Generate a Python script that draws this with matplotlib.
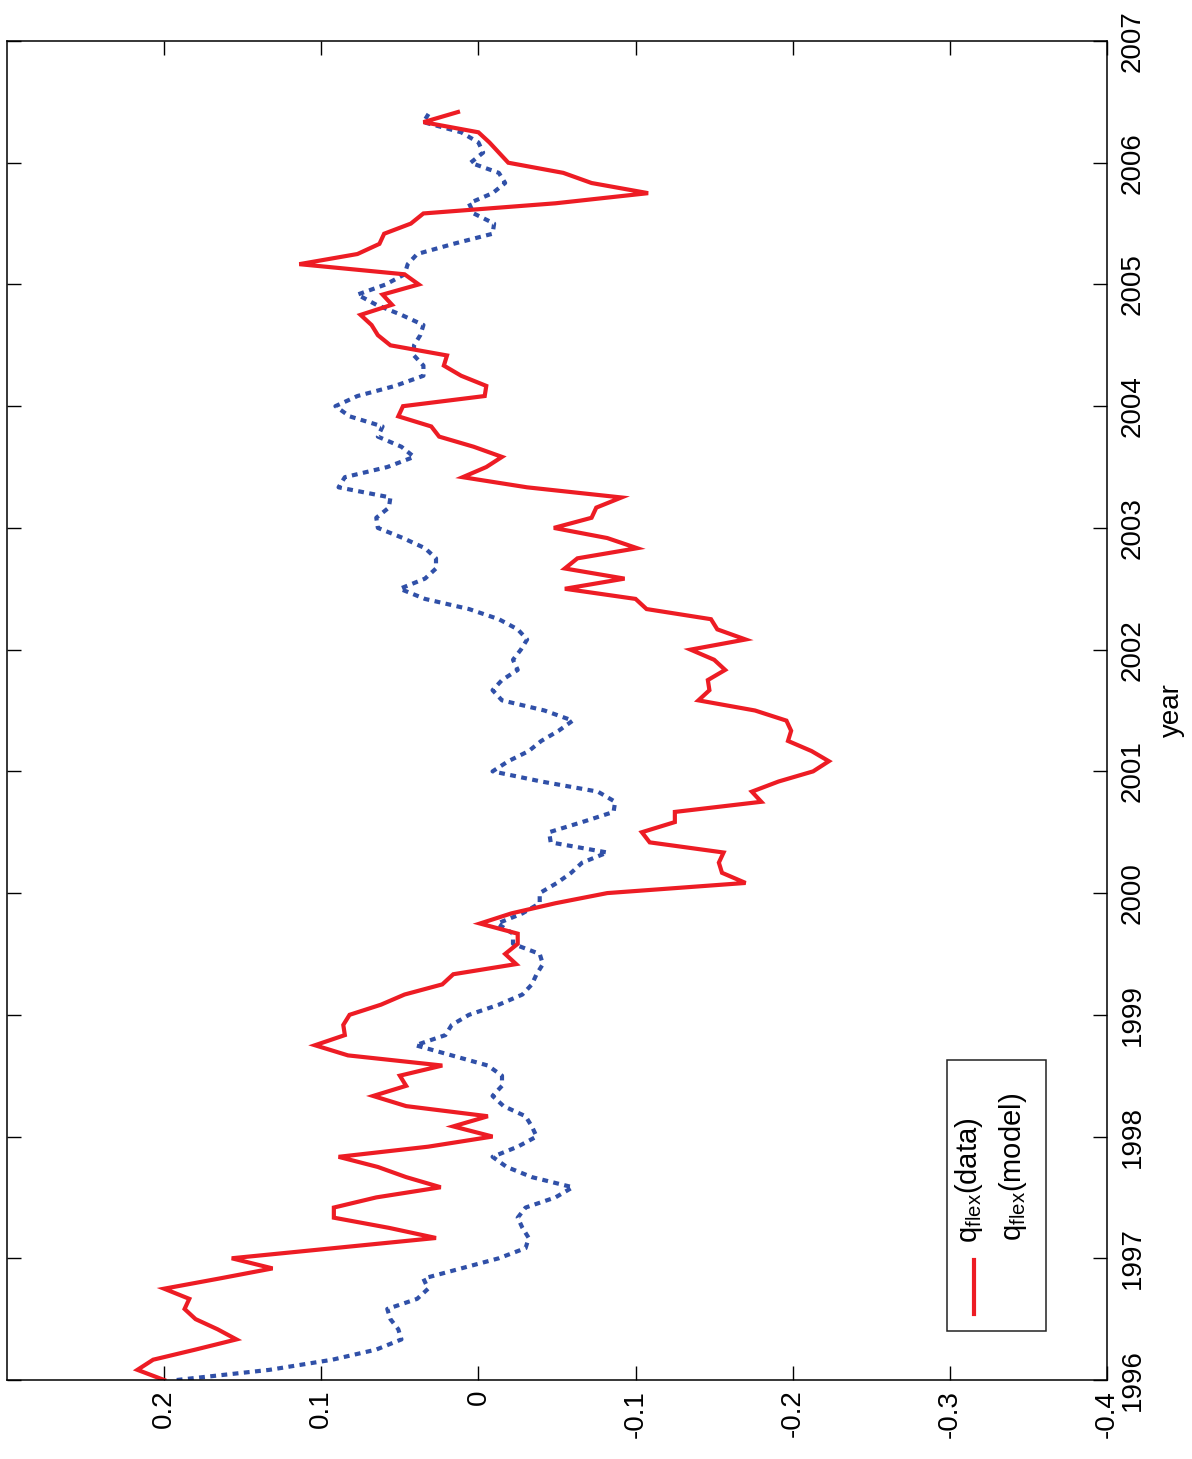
#!/usr/bin/env python3
"""
plot.py

Monthly q_flex series (data vs model), 1996-2006, drawn as the rotated page:
year runs bottom to top, q_flex runs right to left.
"""

import numpy as np
import matplotlib
matplotlib.use("Agg")
import matplotlib.pyplot as plt
from matplotlib.patches import Rectangle

plt.rcParams['font.family'] = ['Liberation Sans', 'DejaVu Sans']
plt.rcParams['mathtext.fontset'] = 'custom'
plt.rcParams['mathtext.rm'] = 'Liberation Sans'

# monthly values from Jan 1996 onward
q_data = [
    0.200, 0.217, 0.207, 0.180, 0.154, 0.166, 0.180, 0.187, 0.184, 0.200,
    0.165, 0.131, 0.157, 0.092, 0.027, 0.057, 0.092, 0.092, 0.065, 0.024,
    0.046, 0.064, 0.089, 0.032, -0.009, 0.016, -0.006, 0.046, 0.067, 0.046,
    0.050, 0.023, 0.083, 0.104, 0.085, 0.086, 0.082, 0.062, 0.047, 0.023,
    0.016, -0.024, -0.017, -0.025, -0.025, -0.001, -0.021, -0.049, -0.082, -0.170,
    -0.155, -0.153, -0.156, -0.109, -0.104, -0.125, -0.125, -0.180, -0.174, -0.191,
    -0.213, -0.223, -0.212, -0.197, -0.199, -0.196, -0.176, -0.140, -0.147, -0.146,
    -0.157, -0.150, -0.135, -0.170, -0.152, -0.148, -0.107, -0.100, -0.055, -0.093,
    -0.055, -0.063, -0.101, -0.082, -0.048, -0.072, -0.075, -0.091, -0.031, 0.010,
    -0.005, -0.015, 0.003, 0.025, 0.030, 0.051, 0.048, -0.004, -0.005, 0.011,
    0.022, 0.020, 0.056, 0.064, 0.068, 0.075, 0.055, 0.061, 0.038, 0.047,
    0.114, 0.077, 0.063, 0.060, 0.043, 0.035, -0.049, -0.108, -0.072, -0.054,
    -0.019, -0.013, -0.007, 0.000, 0.035, 0.013,
]

q_model = [
    0.192, 0.133, 0.093, 0.065, 0.049, 0.051, 0.056, 0.058, 0.039, 0.032,
    0.035, 0.011, -0.013, -0.030, -0.032, -0.028, -0.025, -0.030, -0.049, -0.060,
    -0.034, -0.018, -0.009, -0.025, -0.037, -0.034, -0.030, -0.016, -0.009, -0.015,
    -0.015, -0.006, 0.017, 0.040, 0.021, 0.017, 0.006, -0.013, -0.028, -0.034,
    -0.037, -0.041, -0.039, -0.022, -0.022, -0.012, -0.028, -0.039, -0.039, -0.050,
    -0.059, -0.066, -0.082, -0.046, -0.045, -0.066, -0.086, -0.087, -0.076, -0.040,
    -0.009, -0.019, -0.032, -0.040, -0.051, -0.060, -0.042, -0.015, -0.009, -0.015,
    -0.025, -0.022, -0.027, -0.031, -0.025, -0.013, 0.006, 0.034, 0.050, 0.034,
    0.027, 0.027, 0.034, 0.048, 0.064, 0.065, 0.057, 0.056, 0.089, 0.085,
    0.058, 0.041, 0.049, 0.064, 0.061, 0.082, 0.091, 0.077, 0.053, 0.035,
    0.035, 0.041, 0.041, 0.037, 0.035, 0.049, 0.065, 0.077, 0.059, 0.047,
    0.045, 0.039, 0.016, -0.009, -0.010, 0.003, 0.006, -0.009, -0.017, -0.013,
    0.005, -0.003, 0.000, 0.011, 0.035, 0.031,
]

start_year = 1996
year_ticks = list(range(1996, 2008))
q_ticks = [0.2, 0.1, 0.0, -0.1, -0.2, -0.3, -0.4]
q_tick_labels = ['0.2', '0.1', '0', '-0.1', '-0.2', '-0.3', '-0.4']

RED = '#ED1C24'
BLUE = '#3050A8'


def main():
    years = start_year + np.arange(len(q_data)) / 12.0

    fig = plt.figure(figsize=(11.92, 14.59), dpi=100)
    ax = fig.add_axes([0.00587, 0.05415, 0.92282, 0.91775])

    # model first so the data line sits on top
    ax.plot(q_model, years[:len(q_model)], color=BLUE, lw=3.0,
            linestyle=(0, (1.4, 1.3)), dash_capstyle='butt')
    ax.plot(q_data, years, color=RED, lw=3.0, solid_joinstyle='miter')

    ax.set_xlim(0.3, -0.4)
    ax.set_ylim(1996, 2007)

    ax.set_xticks(q_ticks)
    ax.set_xticklabels(q_tick_labels, rotation=90)
    ax.set_yticks(year_ticks)
    ax.set_yticklabels([str(y) for y in year_ticks], rotation=90, va='center')
    ax.yaxis.tick_right()
    ax.yaxis.set_label_position('right')
    ax.set_ylabel('year', rotation=90, fontsize=20, labelpad=10)

    ax.tick_params(axis='both', direction='in', length=10, width=1.0,
                   labelsize=20, top=True, bottom=True, left=True, right=True)
    ax.tick_params(axis='x', pad=7)
    ax.tick_params(axis='y', pad=9)
    for sp in ax.spines.values():
        sp.set_linewidth(1.1)

    # legend drawn by hand, rotated with the page (only the data line has a sample)
    ax.add_patch(Rectangle((0.8545, 0.0366), 0.09, 0.2024, transform=ax.transAxes,
                           fill=False, edgecolor='#222222', lw=1.1, zorder=5))
    ax.plot([0.8791, 0.8791], [0.0493, 0.0896], transform=ax.transAxes,
            color=RED, lw=3.0, zorder=6)
    ax.text(0.8818, 0.1023, r'$\mathregular{q_{flex}}$(data)', transform=ax.transAxes,
            rotation=90, rotation_mode='anchor', ha='left', va='baseline',
            fontsize=21, zorder=6)
    ax.text(0.9218, 0.1038, r'$\mathregular{q_{flex}}$(model)', transform=ax.transAxes,
            rotation=90, rotation_mode='anchor', ha='left', va='baseline',
            fontsize=21, zorder=6)

    plt.savefig('out.png', dpi=100)
    print("Saved out.png")


if __name__ == "__main__":
    main()
